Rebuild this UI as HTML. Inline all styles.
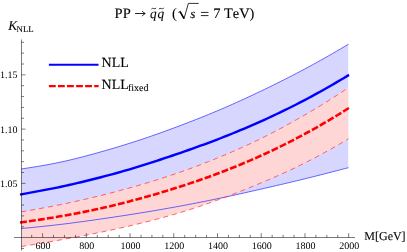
<!DOCTYPE html>
<html><head><meta charset="utf-8"><style>
html,body{margin:0;padding:0;background:#fff;}
body{width:407px;height:252px;overflow:hidden;position:relative;}
svg{display:block;position:absolute;left:0;top:0;}
.t{position:absolute;font-family:"Liberation Serif",serif;color:#000;line-height:1;white-space:nowrap;font-kerning:none;-webkit-text-stroke:0.1px #000;text-rendering:geometricPrecision;}
</style></head><body>
<svg width="407" height="252" viewBox="0 0 407 252">
<rect width="407" height="252" fill="#fff"/>
<path d="M21.50 168.94 L25.48 168.34 L29.47 167.72 L33.45 167.10 L37.44 166.45 L41.42 165.78 L45.40 165.09 L49.39 164.36 L53.37 163.60 L57.36 162.80 L61.34 161.96 L65.33 161.08 L69.31 160.17 L73.29 159.21 L77.28 158.22 L81.26 157.20 L85.25 156.16 L89.23 155.09 L93.21 154.00 L97.20 152.90 L101.18 151.78 L105.17 150.64 L109.15 149.49 L113.14 148.32 L117.12 147.13 L121.10 145.93 L125.09 144.70 L129.07 143.45 L133.06 142.18 L137.04 140.89 L141.02 139.58 L145.01 138.24 L148.99 136.89 L152.98 135.51 L156.96 134.11 L160.95 132.69 L164.93 131.25 L168.91 129.80 L172.90 128.33 L176.88 126.84 L180.87 125.34 L184.85 123.83 L188.83 122.30 L192.82 120.75 L196.80 119.19 L200.79 117.61 L204.77 116.02 L208.75 114.40 L212.74 112.75 L216.72 111.09 L220.71 109.40 L224.69 107.69 L228.68 105.95 L232.66 104.19 L236.64 102.41 L240.63 100.61 L244.61 98.79 L248.60 96.95 L252.58 95.08 L256.56 93.20 L260.55 91.31 L264.53 89.39 L268.52 87.46 L272.50 85.51 L276.49 83.54 L280.47 81.55 L284.45 79.54 L288.44 77.51 L292.42 75.46 L296.41 73.40 L300.39 71.31 L304.37 69.19 L308.36 67.05 L312.34 64.89 L316.33 62.70 L320.31 60.49 L324.30 58.25 L328.28 55.98 L332.26 53.70 L336.25 51.39 L340.23 49.07 L344.22 46.72 L348.20 44.36 L348.20 167.74 L344.22 168.78 L340.23 169.81 L336.25 170.85 L332.26 171.88 L328.28 172.90 L324.30 173.92 L320.31 174.94 L316.33 175.95 L312.34 176.95 L308.36 177.94 L304.37 178.93 L300.39 179.90 L296.41 180.87 L292.42 181.82 L288.44 182.77 L284.45 183.70 L280.47 184.63 L276.49 185.56 L272.50 186.48 L268.52 187.39 L264.53 188.30 L260.55 189.21 L256.56 190.12 L252.58 191.02 L248.60 191.93 L244.61 192.82 L240.63 193.72 L236.64 194.60 L232.66 195.48 L228.68 196.35 L224.69 197.21 L220.71 198.06 L216.72 198.89 L212.74 199.72 L208.75 200.53 L204.77 201.33 L200.79 202.13 L196.80 202.91 L192.82 203.68 L188.83 204.44 L184.85 205.20 L180.87 205.94 L176.88 206.68 L172.90 207.40 L168.91 208.12 L164.93 208.82 L160.95 209.52 L156.96 210.21 L152.98 210.89 L148.99 211.56 L145.01 212.22 L141.02 212.87 L137.04 213.52 L133.06 214.15 L129.07 214.78 L125.09 215.39 L121.10 216.00 L117.12 216.60 L113.14 217.20 L109.15 217.79 L105.17 218.37 L101.18 218.95 L97.20 219.52 L93.21 220.09 L89.23 220.65 L85.25 221.21 L81.26 221.75 L77.28 222.29 L73.29 222.82 L69.31 223.33 L65.33 223.83 L61.34 224.32 L57.36 224.79 L53.37 225.24 L49.39 225.69 L45.40 226.11 L41.42 226.53 L37.44 226.94 L33.45 227.33 L29.47 227.73 L25.48 228.12 L21.50 228.50Z" fill="#d6d6ff"/>
<path d="M21.50 211.83 L25.48 211.14 L29.47 210.44 L33.45 209.73 L37.44 209.02 L41.42 208.30 L45.40 207.56 L49.39 206.81 L53.37 206.05 L57.36 205.27 L61.34 204.46 L65.33 203.64 L69.31 202.79 L73.29 201.93 L77.28 201.05 L81.26 200.15 L85.25 199.23 L89.23 198.30 L93.21 197.35 L97.20 196.39 L101.18 195.41 L105.17 194.41 L109.15 193.40 L113.14 192.37 L117.12 191.32 L121.10 190.25 L125.09 189.17 L129.07 188.07 L133.06 186.95 L137.04 185.81 L141.02 184.66 L145.01 183.48 L148.99 182.29 L152.98 181.07 L156.96 179.83 L160.95 178.58 L164.93 177.30 L168.91 175.99 L172.90 174.66 L176.88 173.30 L180.87 171.92 L184.85 170.51 L188.83 169.07 L192.82 167.61 L196.80 166.11 L200.79 164.60 L204.77 163.05 L208.75 161.48 L212.74 159.89 L216.72 158.28 L220.71 156.64 L224.69 154.98 L228.68 153.29 L232.66 151.58 L236.64 149.84 L240.63 148.08 L244.61 146.28 L248.60 144.45 L252.58 142.59 L256.56 140.69 L260.55 138.76 L264.53 136.78 L268.52 134.77 L272.50 132.73 L276.49 130.65 L280.47 128.53 L284.45 126.38 L288.44 124.21 L292.42 122.00 L296.41 119.76 L300.39 117.49 L304.37 115.20 L308.36 112.88 L312.34 110.52 L316.33 108.14 L320.31 105.72 L324.30 103.27 L328.28 100.78 L332.26 98.25 L336.25 95.69 L340.23 93.08 L344.22 90.43 L348.20 87.74 L348.20 138.97 L344.22 141.34 L340.23 143.68 L336.25 145.99 L332.26 148.26 L328.28 150.49 L324.30 152.69 L320.31 154.85 L316.33 156.98 L312.34 159.08 L308.36 161.14 L304.37 163.16 L300.39 165.14 L296.41 167.09 L292.42 169.00 L288.44 170.88 L284.45 172.71 L280.47 174.51 L276.49 176.28 L272.50 178.02 L268.52 179.74 L264.53 181.43 L260.55 183.11 L256.56 184.78 L252.58 186.42 L248.60 188.05 L244.61 189.66 L240.63 191.26 L236.64 192.83 L232.66 194.38 L228.68 195.91 L224.69 197.42 L220.71 198.90 L216.72 200.36 L212.74 201.81 L208.75 203.22 L204.77 204.62 L200.79 205.98 L196.80 207.32 L192.82 208.63 L188.83 209.91 L184.85 211.16 L180.87 212.38 L176.88 213.56 L172.90 214.72 L168.91 215.85 L164.93 216.96 L160.95 218.05 L156.96 219.11 L152.98 220.15 L148.99 221.18 L145.01 222.18 L141.02 223.17 L137.04 224.14 L133.06 225.09 L129.07 226.02 L125.09 226.94 L121.10 227.84 L117.12 228.73 L113.14 229.60 L109.15 230.46 L105.17 231.30 L101.18 232.13 L97.20 232.95 L93.21 233.75 L89.23 234.54 L85.25 235.32 L81.26 236.08 L77.28 236.84 L73.29 237.58 L69.31 238.31 L65.33 239.04 L61.34 239.75 L57.36 240.46 L53.37 241.16 L49.39 241.85 L45.40 242.54 L41.42 243.21 L37.44 243.88 L33.45 244.54 L29.47 245.19 L25.48 245.83 L21.50 246.46Z" fill="#ffd6d6"/>
<g fill="none" stroke="#3030ff" stroke-width="0.72">
<path d="M21.20 168.98 L25.19 168.38 L29.18 167.77 L33.17 167.14 L37.17 166.50 L41.16 165.83 L45.15 165.13 L49.14 164.41 L53.13 163.65 L57.12 162.85 L61.11 162.01 L65.11 161.13 L69.10 160.21 L73.09 159.26 L77.08 158.27 L81.07 157.25 L85.06 156.21 L89.05 155.14 L93.05 154.05 L97.04 152.95 L101.03 151.82 L105.02 150.69 L109.01 149.53 L113.00 148.36 L117.00 147.17 L120.99 145.96 L124.98 144.73 L128.97 143.48 L132.96 142.21 L136.95 140.92 L140.94 139.61 L144.94 138.27 L148.93 136.91 L152.92 135.53 L156.91 134.13 L160.90 132.71 L164.89 131.27 L168.88 129.81 L172.88 128.34 L176.87 126.85 L180.86 125.34 L184.85 123.83 L188.84 122.30 L192.83 120.75 L196.82 119.18 L200.82 117.60 L204.81 116.00 L208.80 114.38 L212.79 112.73 L216.78 111.06 L220.77 109.37 L224.76 107.66 L228.76 105.92 L232.75 104.15 L236.74 102.37 L240.73 100.56 L244.72 98.74 L248.71 96.89 L252.70 95.03 L256.70 93.14 L260.69 91.24 L264.68 89.32 L268.67 87.38 L272.66 85.43 L276.65 83.45 L280.65 81.46 L284.64 79.45 L288.63 77.42 L292.62 75.36 L296.61 73.29 L300.60 71.19 L304.59 69.08 L308.59 66.93 L312.58 64.76 L316.57 62.57 L320.56 60.35 L324.55 58.10 L328.54 55.83 L332.53 53.54 L336.53 51.23 L340.52 48.90 L344.51 46.55 L348.50 44.19"/>
<path d="M21.20 228.53 L25.19 228.14 L29.18 227.76 L33.17 227.36 L37.17 226.96 L41.16 226.56 L45.15 226.14 L49.14 225.71 L53.13 225.27 L57.12 224.82 L61.11 224.35 L65.11 223.86 L69.10 223.36 L73.09 222.84 L77.08 222.32 L81.07 221.78 L85.06 221.23 L89.05 220.68 L93.05 220.11 L97.04 219.54 L101.03 218.97 L105.02 218.39 L109.01 217.81 L113.00 217.22 L117.00 216.62 L120.99 216.02 L124.98 215.41 L128.97 214.79 L132.96 214.16 L136.95 213.53 L140.94 212.89 L144.94 212.23 L148.93 211.57 L152.92 210.90 L156.91 210.22 L160.90 209.53 L164.89 208.83 L168.88 208.12 L172.88 207.41 L176.87 206.68 L180.86 205.94 L184.85 205.20 L188.84 204.44 L192.83 203.68 L196.82 202.90 L200.82 202.12 L204.81 201.33 L208.80 200.52 L212.79 199.71 L216.78 198.88 L220.77 198.04 L224.76 197.19 L228.76 196.33 L232.75 195.46 L236.74 194.58 L240.73 193.69 L244.72 192.80 L248.71 191.90 L252.70 191.00 L256.70 190.09 L260.69 189.18 L264.68 188.27 L268.67 187.36 L272.66 186.44 L276.65 185.52 L280.65 184.59 L284.64 183.66 L288.63 182.72 L292.62 181.77 L296.61 180.82 L300.60 179.85 L304.59 178.87 L308.59 177.89 L312.58 176.89 L316.57 175.89 L320.56 174.88 L324.55 173.86 L328.54 172.84 L332.53 171.81 L336.53 170.77 L340.52 169.74 L344.51 168.70 L348.50 167.66"/>
</g>
<g fill="none" stroke="#ff3030" stroke-width="0.72" stroke-dasharray="5.1 3.96">
<path d="M21.20 211.88 L25.19 211.19 L29.18 210.49 L33.17 209.78 L37.17 209.07 L41.16 208.34 L45.15 207.61 L49.14 206.86 L53.13 206.10 L57.12 205.31 L61.11 204.51 L65.11 203.68 L69.10 202.84 L73.09 201.98 L77.08 201.09 L81.07 200.19 L85.06 199.28 L89.05 198.34 L93.05 197.39 L97.04 196.43 L101.03 195.45 L105.02 194.45 L109.01 193.43 L113.00 192.40 L117.00 191.35 L120.99 190.28 L124.98 189.20 L128.97 188.10 L132.96 186.98 L136.95 185.84 L140.94 184.68 L144.94 183.50 L148.93 182.31 L152.92 181.09 L156.91 179.85 L160.90 178.59 L164.89 177.31 L168.88 176.00 L172.88 174.67 L176.87 173.31 L180.86 171.92 L184.85 170.51 L188.84 169.07 L192.83 167.60 L196.82 166.10 L200.82 164.58 L204.81 163.04 L208.80 161.47 L212.79 159.87 L216.78 158.25 L220.77 156.61 L224.76 154.95 L228.76 153.26 L232.75 151.54 L236.74 149.80 L240.73 148.03 L244.72 146.23 L248.71 144.40 L252.70 142.53 L256.70 140.63 L260.69 138.69 L264.68 136.71 L268.67 134.70 L272.66 132.65 L276.65 130.56 L280.65 128.44 L284.64 126.29 L288.63 124.10 L292.62 121.89 L296.61 119.64 L300.60 117.37 L304.59 115.07 L308.59 112.74 L312.58 110.38 L316.57 107.99 L320.56 105.57 L324.55 103.11 L328.54 100.61 L332.53 98.08 L336.53 95.51 L340.52 92.89 L344.51 90.24 L348.50 87.54"/>
<path d="M21.20 246.50 L25.19 245.87 L29.18 245.23 L33.17 244.58 L37.17 243.92 L41.16 243.26 L45.15 242.58 L49.14 241.90 L53.13 241.20 L57.12 240.50 L61.11 239.79 L65.11 239.08 L69.10 238.35 L73.09 237.62 L77.08 236.87 L81.07 236.12 L85.06 235.35 L89.05 234.57 L93.05 233.78 L97.04 232.98 L101.03 232.16 L105.02 231.33 L109.01 230.49 L113.00 229.63 L117.00 228.76 L120.99 227.87 L124.98 226.97 L128.97 226.05 L132.96 225.11 L136.95 224.16 L140.94 223.19 L144.94 222.20 L148.93 221.19 L152.92 220.17 L156.91 219.12 L160.90 218.06 L164.89 216.97 L168.88 215.86 L172.88 214.73 L176.87 213.57 L180.86 212.38 L184.85 211.16 L188.84 209.91 L192.83 208.63 L196.82 207.32 L200.82 205.97 L204.81 204.60 L208.80 203.21 L212.79 201.79 L216.78 200.34 L220.77 198.88 L224.76 197.39 L228.76 195.88 L232.75 194.35 L236.74 192.79 L240.73 191.22 L244.72 189.62 L248.71 188.00 L252.70 186.37 L256.70 184.72 L260.69 183.05 L264.68 181.37 L268.67 179.67 L272.66 177.95 L276.65 176.21 L280.65 174.43 L284.64 172.63 L288.63 170.79 L292.62 168.91 L296.61 166.99 L300.60 165.04 L304.59 163.05 L308.59 161.02 L312.58 158.95 L316.57 156.85 L320.56 154.72 L324.55 152.55 L328.54 150.34 L332.53 148.10 L336.53 145.83 L340.52 143.52 L344.51 141.17 L348.50 138.79"/>
</g>
<path d="M21.20 194.37 L25.19 193.63 L29.17 192.90 L33.16 192.16 L37.14 191.43 L41.13 190.69 L45.11 189.94 L49.10 189.18 L53.08 188.39 L57.07 187.58 L61.05 186.75 L65.04 185.89 L69.02 185.01 L73.01 184.10 L77.00 183.17 L80.98 182.22 L84.97 181.26 L88.95 180.27 L92.94 179.28 L96.92 178.27 L100.91 177.24 L104.89 176.20 L108.88 175.15 L112.86 174.07 L116.85 172.98 L120.83 171.86 L124.82 170.72 L128.80 169.56 L132.79 168.37 L136.78 167.15 L140.76 165.92 L144.75 164.66 L148.73 163.39 L152.72 162.10 L156.70 160.81 L160.69 159.50 L164.67 158.18 L168.66 156.84 L172.64 155.50 L176.63 154.14 L180.61 152.77 L184.60 151.40 L188.59 150.00 L192.57 148.60 L196.56 147.17 L200.54 145.73 L204.53 144.28 L208.51 142.80 L212.50 141.30 L216.48 139.79 L220.47 138.25 L224.45 136.69 L228.44 135.10 L232.42 133.50 L236.41 131.87 L240.40 130.21 L244.38 128.54 L248.37 126.84 L252.35 125.12 L256.34 123.37 L260.32 121.60 L264.31 119.80 L268.29 117.97 L272.28 116.13 L276.26 114.25 L280.25 112.35 L284.23 110.42 L288.22 108.46 L292.20 106.48 L296.19 104.46 L300.18 102.42 L304.16 100.34 L308.15 98.23 L312.13 96.09 L316.12 93.92 L320.10 91.73 L324.09 89.50 L328.07 87.24 L332.06 84.95 L336.04 82.63 L340.03 80.29 L344.01 77.92 L348.00 75.51" fill="none" stroke="#0000ff" stroke-width="2.4" stroke-linecap="square"/>
<path d="M20.00 222.58 L24.01 221.99 L28.02 221.41 L32.03 220.81 L36.04 220.21 L40.05 219.60 L44.07 218.98 L48.08 218.34 L52.09 217.69 L56.10 217.03 L60.11 216.34 L64.12 215.64 L68.13 214.92 L72.14 214.18 L76.15 213.43 L80.16 212.65 L84.18 211.86 L88.19 211.04 L92.20 210.20 L96.21 209.35 L100.22 208.46 L104.23 207.56 L108.24 206.63 L112.25 205.68 L116.26 204.70 L120.27 203.71 L124.29 202.69 L128.30 201.66 L132.31 200.60 L136.32 199.53 L140.33 198.44 L144.34 197.34 L148.35 196.21 L152.36 195.07 L156.37 193.91 L160.38 192.72 L164.40 191.52 L168.41 190.30 L172.42 189.06 L176.43 187.80 L180.44 186.52 L184.45 185.22 L188.46 183.89 L192.47 182.55 L196.48 181.19 L200.49 179.80 L204.50 178.39 L208.52 176.95 L212.53 175.49 L216.54 174.00 L220.55 172.48 L224.56 170.94 L228.57 169.37 L232.58 167.78 L236.59 166.15 L240.60 164.50 L244.61 162.82 L248.63 161.11 L252.64 159.37 L256.65 157.60 L260.66 155.80 L264.67 153.97 L268.68 152.11 L272.69 150.22 L276.70 148.30 L280.71 146.35 L284.72 144.36 L288.74 142.34 L292.75 140.29 L296.76 138.21 L300.77 136.10 L304.78 133.95 L308.79 131.76 L312.80 129.54 L316.81 127.29 L320.82 125.00 L324.83 122.68 L328.85 120.32 L332.86 117.93 L336.87 115.50 L340.88 113.03 L344.89 110.52 L348.90 107.98" fill="none" stroke="#ff0000" stroke-width="2.6" stroke-dasharray="6.84 2.22"/>
<g stroke="#000" stroke-width="0.52">
<line x1="21.5" y1="39.5" x2="21.5" y2="250.5"/>
<line x1="14" y1="237.5" x2="355" y2="237.5"/>
</g>
<g stroke="#000" stroke-width="0.52">
<line x1="31.67" y1="237.5" x2="31.67" y2="234.90"/><line x1="42.60" y1="237.5" x2="42.60" y2="233.20"/><line x1="53.53" y1="237.5" x2="53.53" y2="234.90"/><line x1="64.46" y1="237.5" x2="64.46" y2="234.90"/><line x1="75.40" y1="237.5" x2="75.40" y2="234.90"/><line x1="86.33" y1="237.5" x2="86.33" y2="233.20"/><line x1="97.26" y1="237.5" x2="97.26" y2="234.90"/><line x1="108.19" y1="237.5" x2="108.19" y2="234.90"/><line x1="119.12" y1="237.5" x2="119.12" y2="234.90"/><line x1="130.06" y1="237.5" x2="130.06" y2="233.20"/><line x1="140.99" y1="237.5" x2="140.99" y2="234.90"/><line x1="151.92" y1="237.5" x2="151.92" y2="234.90"/><line x1="162.85" y1="237.5" x2="162.85" y2="234.90"/><line x1="173.78" y1="237.5" x2="173.78" y2="233.20"/><line x1="184.72" y1="237.5" x2="184.72" y2="234.90"/><line x1="195.65" y1="237.5" x2="195.65" y2="234.90"/><line x1="206.58" y1="237.5" x2="206.58" y2="234.90"/><line x1="217.51" y1="237.5" x2="217.51" y2="233.20"/><line x1="228.44" y1="237.5" x2="228.44" y2="234.90"/><line x1="239.38" y1="237.5" x2="239.38" y2="234.90"/><line x1="250.31" y1="237.5" x2="250.31" y2="234.90"/><line x1="261.24" y1="237.5" x2="261.24" y2="233.20"/><line x1="272.17" y1="237.5" x2="272.17" y2="234.90"/><line x1="283.10" y1="237.5" x2="283.10" y2="234.90"/><line x1="294.04" y1="237.5" x2="294.04" y2="234.90"/><line x1="304.97" y1="237.5" x2="304.97" y2="233.20"/><line x1="315.90" y1="237.5" x2="315.90" y2="234.90"/><line x1="326.83" y1="237.5" x2="326.83" y2="234.90"/><line x1="337.76" y1="237.5" x2="337.76" y2="234.90"/><line x1="348.70" y1="237.5" x2="348.70" y2="233.20"/><line x1="21.5" y1="248.45" x2="24.10" y2="248.45"/><line x1="21.5" y1="226.75" x2="24.10" y2="226.75"/><line x1="21.5" y1="215.90" x2="24.10" y2="215.90"/><line x1="21.5" y1="205.05" x2="24.10" y2="205.05"/><line x1="21.5" y1="194.20" x2="24.10" y2="194.20"/><line x1="21.5" y1="183.35" x2="25.50" y2="183.35"/><line x1="21.5" y1="172.50" x2="24.10" y2="172.50"/><line x1="21.5" y1="161.65" x2="24.10" y2="161.65"/><line x1="21.5" y1="150.80" x2="24.10" y2="150.80"/><line x1="21.5" y1="139.95" x2="24.10" y2="139.95"/><line x1="21.5" y1="129.10" x2="25.50" y2="129.10"/><line x1="21.5" y1="118.25" x2="24.10" y2="118.25"/><line x1="21.5" y1="107.40" x2="24.10" y2="107.40"/><line x1="21.5" y1="96.55" x2="24.10" y2="96.55"/><line x1="21.5" y1="85.70" x2="24.10" y2="85.70"/><line x1="21.5" y1="74.85" x2="25.50" y2="74.85"/><line x1="21.5" y1="64.00" x2="24.10" y2="64.00"/><line x1="21.5" y1="53.15" x2="24.10" y2="53.15"/><line x1="21.5" y1="42.30" x2="24.10" y2="42.30"/>
</g>
<line x1="48.9" y1="64.7" x2="98.5" y2="64.7" stroke="#0000ff" stroke-width="2.1"/>
<line x1="48.9" y1="86.1" x2="98.6" y2="86.1" stroke="#ff0000" stroke-width="2.2" stroke-dasharray="6.84 2.22"/>
<path d="M135 13.5 H145 M142.2 11.0 Q143.2 12.8 145.3 13.5 Q143.2 14.2 142.2 16.2" fill="none" stroke="#000" stroke-width="0.85"/>
<path d="M151.4 9.1 q1.0 -1.3 2.3 -0.55 t2.4 -0.55 M158.9 9.1 q1.0 -1.3 2.4 -0.55 t2.6 -0.55" fill="none" stroke="#000" stroke-width="0.75"/>
<path d="M200.9 12.4 H208.5 M200.9 15.6 H208.5" fill="none" stroke="#000" stroke-width="0.85"/>
<path d="M178.4 12.6 L180.2 11.3 L184 18.6 L188.4 3.4 L198.7 3.4" fill="none" stroke="#000" stroke-width="0.8"/>
<path d="M180.0 11.6 L184 18.6" fill="none" stroke="#000" stroke-width="1.5"/>
</svg>
<div style="position:absolute;left:0;top:0;width:407px;height:252px;will-change:transform;">
<div class="t" style="top:242.00px;font-size:10px;left:-6.90px;width:100px;text-align:center;-webkit-text-stroke:0;">600</div><div class="t" style="top:242.00px;font-size:10px;left:36.83px;width:100px;text-align:center;-webkit-text-stroke:0;">800</div><div class="t" style="top:242.00px;font-size:10px;left:80.56px;width:100px;text-align:center;-webkit-text-stroke:0;">1000</div><div class="t" style="top:242.00px;font-size:10px;left:124.28px;width:100px;text-align:center;-webkit-text-stroke:0;">1200</div><div class="t" style="top:242.00px;font-size:10px;left:168.01px;width:100px;text-align:center;-webkit-text-stroke:0;">1400</div><div class="t" style="top:242.00px;font-size:10px;left:211.74px;width:100px;text-align:center;-webkit-text-stroke:0;">1600</div><div class="t" style="top:242.00px;font-size:10px;left:255.47px;width:100px;text-align:center;-webkit-text-stroke:0;">1800</div><div class="t" style="top:242.00px;font-size:10px;left:299.20px;width:100px;text-align:center;-webkit-text-stroke:0;">2000</div><div class="t" style="top:180.00px;font-size:10px;left:-82.50px;width:100px;text-align:right;-webkit-text-stroke:0;">1.05</div><div class="t" style="top:126.00px;font-size:10px;left:-82.50px;width:100px;text-align:right;-webkit-text-stroke:0;">1.10</div><div class="t" style="top:71.00px;font-size:10px;left:-82.50px;width:100px;text-align:right;-webkit-text-stroke:0;">1.15</div><div class="t" style="top:57.00px;font-size:14px;left:101.60px;">NLL</div><div class="t" style="top:79.00px;font-size:14px;left:101.60px;">NLL</div><div class="t" style="top:84.00px;font-size:10px;left:128.00px;">fixed</div><div class="t" style="top:19.00px;font-size:13.4px;left:8.30px;font-style:italic;">K</div><div class="t" style="top:25.00px;font-size:8.8px;left:16.60px;">NLL</div><div class="t" style="top:230.00px;font-size:12px;left:364.30px;">M[GeV]</div><div class="t" style="top:7.00px;font-size:14.5px;left:114.60px;">PP</div><div class="t" style="top:7.00px;font-size:13.3px;left:150.00px;font-style:italic;">q</div><div class="t" style="top:7.00px;font-size:13.3px;left:157.60px;font-style:italic;">q</div><div class="t" style="top:7.00px;font-size:14.5px;left:171.90px;">(</div><div class="t" style="top:7.00px;font-size:13.3px;left:190.20px;font-style:italic;">s</div><div class="t" style="top:7.00px;font-size:14.4px;left:213.20px;">7 TeV)</div>
</div>
</body></html>
